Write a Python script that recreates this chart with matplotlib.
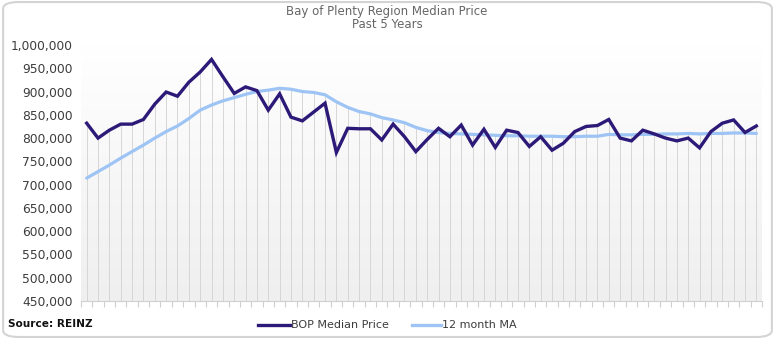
import numpy as np
import matplotlib
matplotlib.use("Agg")
import matplotlib.pyplot as plt
from matplotlib.patches import FancyBboxPatch
from matplotlib.lines import Line2D
from matplotlib.ticker import FuncFormatter, MultipleLocator
from matplotlib.colors import LinearSegmentedColormap

# ---- data ----
median_price = [832, 800, 817, 830, 830, 840, 873, 899, 890, 920,
                942, 969, 932, 896, 910, 902, 860, 895, 845, 837,
                856, 875, 769, 821, 820, 820, 796, 830, 803, 771,
                797, 821, 803, 828, 785, 819, 780, 817, 812, 782,
                803, 774, 789, 814, 825, 827, 840, 800, 794, 817,
                809, 800, 794, 800, 779, 814, 832, 839, 812, 826]
ma_12 = [714, 728, 742, 757, 771, 785, 800, 814, 826, 842,
         860, 871, 880, 887, 894, 900, 903, 907, 905, 900,
         898, 893, 878, 866, 857, 852, 844, 839, 833, 823,
         816, 812, 810, 809, 808, 807, 806, 805, 805, 804,
         804, 804, 803, 803, 804, 804, 808, 807, 807, 808,
         808, 809, 809, 810, 809, 810, 810, 811, 811, 810]
median_price = np.array(median_price) * 1000
ma_12 = np.array(ma_12) * 1000

title_line1 = "Bay of Plenty Region Median Price"
title_line2 = "Past 5 Years"
series_names = ["BOP Median Price", "12 month MA"]
source = "Source: REINZ"

purple = "#2d1a78"
blue = "#9dc4f4"

fig = plt.figure(figsize=(7.75, 3.39), dpi=100)
fig.patch.set_facecolor("white")

# rounded frame
frame = FancyBboxPatch((0.004, 0.006), 0.992, 0.988,
                       boxstyle="round,pad=0,rounding_size=0.02",
                       transform=fig.transFigure, facecolor="none",
                       edgecolor="#d4d4d4", linewidth=1.5, zorder=0)
fig.patches.append(frame)

ax = fig.add_axes([81/775, 1-301/339, (762-81)/775, (301-45)/339])
n = len(median_price)
x = np.arange(n)
ymin, ymax = 450000, 1000000
ax.set_xlim(-0.5, n - 0.5)
ax.set_ylim(ymin, ymax)

# gradient plot background (white at top, light grey at bottom)
grad = np.linspace(0, 1, 256).reshape(-1, 1)
cmap = LinearSegmentedColormap.from_list("g", ["#ffffff", "#efefef"])
ax.imshow(grad, aspect="auto", cmap=cmap, extent=(-0.5, n - 0.5, ymin, ymax),
          origin="upper", zorder=0, vmin=0, vmax=1)

# drop lines
top = np.maximum(median_price, ma_12)
ax.vlines(x, ymin, top, color="#d6d6d6", linewidth=0.7, zorder=1)

ax.plot(x, ma_12, color=blue, linewidth=2.3, solid_capstyle="round", zorder=3)
ax.plot(x, median_price, color=purple, linewidth=2.4, solid_joinstyle="miter", zorder=4)

for s in ["top", "right", "left"]:
    ax.spines[s].set_visible(False)
ax.spines["bottom"].set_color("#cfcfcf")
ax.spines["bottom"].set_linewidth(0.8)

ax.set_xticks(np.arange(-0.5, n, 1.0))
ax.set_xticklabels([])
ax.tick_params(axis="x", length=4, color="#cfcfcf", width=0.8, direction="out")
ax.yaxis.set_major_locator(MultipleLocator(50000))
ax.yaxis.set_major_formatter(FuncFormatter(lambda v, p: f"{int(v):,}"))
ax.tick_params(axis="y", length=0, pad=6, labelsize=8.8, labelcolor="#3c3c3c")

fig.text(387/775, 1-12/339, title_line1, ha="center", va="center", fontsize=8.5,
         color="#666666")
fig.text(387/775, 1-25/339, title_line2, ha="center", va="center", fontsize=8.5,
         color="#666666")

fig.text(8/775, 1-324/339, source, ha="left", va="center", fontsize=7.6,
         fontweight="bold", color="#111111")

# legend drawn manually
ly = 1 - 325/339
for (x0, x1, tx), col, name in zip([(258, 290, 291), (412, 441, 442)],
                                   [purple, blue], series_names):
    fig.add_artist(Line2D([x0/775, x1/775], [ly, ly], color=col, linewidth=2.4,
                          transform=fig.transFigure))
    fig.text(tx/775, ly, name, ha="left", va="center", fontsize=8.0, color="#3c3c3c")

fig.savefig("out.png", dpi=100)
